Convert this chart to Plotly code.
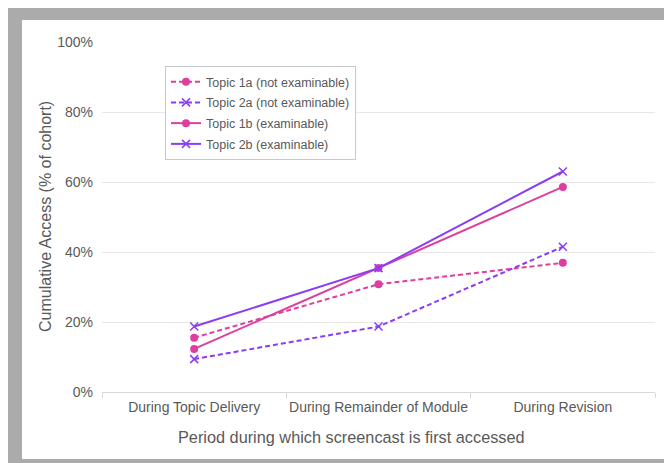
import plotly.graph_objects as go

categories = ["During Topic Delivery", "During Remainder of Module", "During Revision"]
topic_1a = [0.155, 0.308, 0.369]
topic_2a = [0.094, 0.187, 0.415]
topic_1b = [0.123, 0.354, 0.586]
topic_2b = [0.187, 0.354, 0.630]
series_names = ["Topic 1a (not examinable)", "Topic 2a (not examinable)",
                "Topic 1b (examinable)", "Topic 2b (examinable)"]
y_ticks = [0, 0.2, 0.4, 0.6, 0.8, 1.0]

PINK = "#DE3F9E"
PURPLE = "#8A3DF5"
TXT = "#595959"
FONT = "Liberation Sans, Arial, sans-serif"

# page body has an 8px margin, so figure coordinates = screen - 8
OFF = 8
W, H = 672 - OFF, 463 - OFF
L, R, T, B = 102 - OFF, 655 - OFF, 42 - OFF, 392 - OFF  # plot area in figure pixels


def px(x):
    return (x - OFF - L) / (R - L)


def py(y):
    return (B - (y - OFF)) / (B - T)


fig = go.Figure()

styles = [
    (topic_1a, PINK, "5px,3px", "circle"),
    (topic_2a, PURPLE, "5px,3px", "x-thin"),
    (topic_1b, PINK, "solid", "circle"),
    (topic_2b, PURPLE, "solid", "x-thin"),
]
for i, (name, (vals, col, dash, sym)) in enumerate(zip(series_names, styles)):
    marker = dict(symbol=sym, size=8, color=col)
    if sym == "x-thin":
        marker = dict(symbol=sym, size=8, color=col, line=dict(color=col, width=1.5))
    fig.add_trace(go.Scatter(
        x=categories, y=vals, name=name, mode="lines+markers",
        legendgroup=f"g{i}",
        line=dict(color=col, width=2, dash=dash), marker=marker,
    ))

fig.update_layout(
    width=W, height=H,
    margin=dict(l=L, r=W - R, t=T, b=H - B, autoexpand=False),
    paper_bgcolor="#ababab",
    plot_bgcolor="rgba(0,0,0,0)",
    font=dict(family=FONT, color=TXT, size=12),
    showlegend=True,
    legend=dict(
        x=px(165), y=py(66), xanchor="left", yanchor="top",
        bgcolor="white", bordercolor="#c8c8c8", borderwidth=1,
        font=dict(size=12.5, color=TXT), itemwidth=30, tracegroupgap=1.5,
    ),
    shapes=[
        dict(type="rect", xref="paper", yref="paper", layer="below",
             x0=px(22), x1=px(664), y0=py(459), y1=py(20),
             fillcolor="white", line=dict(width=0)),
    ],
    annotations=[
        dict(text="Period during which screencast is first accessed",
             xref="paper", yref="paper", x=px(351), y=py(437),
             xanchor="center", yanchor="middle", showarrow=False,
             font=dict(size=16.3, color=TXT)),
        dict(text="Cumulative Access (% of cohort)",
             xref="paper", yref="paper", x=px(45), y=0.5, textangle=-90,
             xanchor="center", yanchor="middle", showarrow=False,
             font=dict(size=16, color=TXT)),
    ],
)

fig.update_xaxes(
    type="category", range=[-0.5, 2.5], showgrid=False, automargin=False,
    showline=True, linecolor="#d9d9d9", linewidth=1, tickangle=0,
    ticks="outside", tickson="boundaries", ticklen=5, tickcolor="#d9d9d9",
    tickfont=dict(size=14, color=TXT), ticklabelstandoff=2,
)
fig.update_yaxes(
    range=[0, 1], tickvals=y_ticks, tickformat=".0%", automargin=False,
    showgrid=True, gridcolor="#e8e8e8", gridwidth=1, zeroline=False,
    showline=False, ticks="", ticklabelstandoff=8,
    tickfont=dict(size=14, color=TXT),
)

fig.write_html("out.html")
